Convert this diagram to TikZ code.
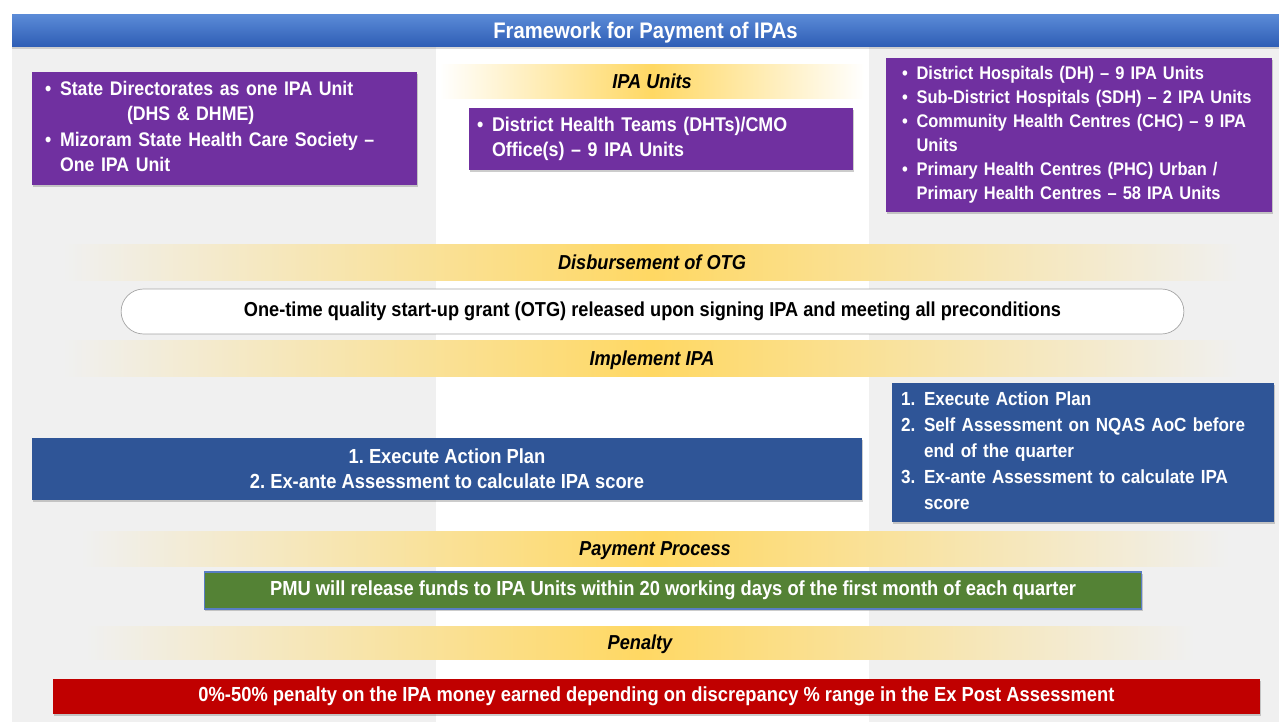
\documentclass[tikz,border=0pt]{standalone}
\usepackage{fontspec}
\setmainfont{Liberation Sans}[FakeStretch=0.9]
\usetikzlibrary{shadows}

\definecolor{ipablue}{HTML}{2F5597}
\definecolor{ipapurple}{HTML}{7030A0}
\definecolor{ipagreen}{HTML}{548235}
\definecolor{ipared}{HTML}{C00000}
\definecolor{ipagold}{HTML}{FFD863}
\definecolor{ipagrey}{HTML}{F0F0F0}
\definecolor{titletop}{HTML}{5A8AD6}
\definecolor{titlebot}{HTML}{2E5DB5}

\begin{document}
\begin{tikzpicture}[%
        x=0.02cm, y=-0.02cm,
        mybox/.style={inner sep=0pt, text=white,
            font=\bfseries\fontsize{11.6}{14.2}\selectfont,
            drop shadow={shadow xshift=0.6pt, shadow yshift=-1.2pt, opacity=0.4}},
        myband/.style={left color=#1, right color=#1, middle color=ipagold,
            inner sep=0pt, text height=8.5pt, text depth=1.5pt,
            font=\bfseries\itshape\fontsize{11.5}{13}\selectfont},
        myband/.default=ipagrey
    ]
    \useasboundingbox (0,0) rectangle (1279,722);

    % grey side columns, white middle column
    \fill[ipagrey] (12,40) rectangle (436,722);
    \fill[ipagrey] (869,40) rectangle (1279,722);

    \node[inner sep=0pt, minimum width=25.34cm, minimum height=0.64cm,
        top color=titletop, bottom color=titlebot, text=white,
        text height=9.5pt, text depth=1.5pt,
        font=\bfseries\fontsize{12.8}{15}\selectfont,
        drop shadow={shadow xshift=0pt, shadow yshift=-1.2pt, opacity=0.3}]
        (title) at (645.5,31) {Framework for Payment of IPAs};

    % IPA units
    \node[myband=white, minimum width=8.5cm, minimum height=0.68cm]
        (unitshead) at (652,82) {IPA Units};

    \node[mybox, fill=ipapurple, minimum width=7.7cm, minimum height=2.26cm,
        text width=7.18cm, align=left, font=\bfseries\fontsize{11.2}{14.4}\selectfont]
        (stateunit) at (224.5,128.5) {%
        \begin{tabular}{@{}l@{\hspace{5pt}}l@{}}
            \textbullet & State Directorates as one IPA Unit\\
                        & \hspace*{1.34cm}(DHS \& DHME)\\
            \textbullet & Mizoram State Health Care Society --\\
                        & One IPA Unit
        \end{tabular}};

    \node[mybox, fill=ipapurple, minimum width=7.68cm, minimum height=1.24cm,
        text width=7.36cm, align=left, font=\bfseries\fontsize{11.3}{14}\selectfont]
        (districtunit) at (661,139) {%
        \begin{tabular}{@{}l@{\hspace{5pt}}l@{}}
            \textbullet & District Health Teams (DHTs)/CMO\\
                        & Office(s) -- 9 IPA Units
        \end{tabular}};

    \node[mybox, fill=ipapurple, minimum width=7.72cm, minimum height=3.08cm,
        text width=7.08cm, align=left, font=\bfseries\fontsize{10.4}{13.7}\selectfont]
        (facilityunit) at (1079,135) {%
        \begin{tabular}{@{}l@{\hspace{5pt}}l@{}}
            \textbullet & District Hospitals (DH) -- 9 IPA Units\\
            \textbullet & Sub-District Hospitals (SDH) -- 2 IPA Units\\
            \textbullet & Community Health Centres (CHC) -- 9 IPA\\
                        & Units\\
            \textbullet & Primary Health Centres (PHC) Urban /\\
                        & Primary Health Centres -- 58 IPA Units
        \end{tabular}};

    % OTG
    \node[myband, minimum width=23.6cm, minimum height=0.72cm]
        (otghead) at (652,263) {Disbursement of OTG};
    \node[draw=gray!70, fill=white, rounded corners=0.45cm,
        minimum width=21.26cm, minimum height=0.9cm,
        font=\bfseries\fontsize{11.5}{13}\selectfont]
        (otg) at (652.5,311.5) {One-time quality start-up grant (OTG) released upon signing IPA and meeting all preconditions};

    % implementation
    \node[myband, minimum width=23.6cm, minimum height=0.72cm]
        (implhead) at (652,359) {Implement IPA};

    \node[mybox, fill=ipablue, minimum width=16.6cm, minimum height=1.24cm,
        align=center] (planleft) at (447,469)
        {1.\ Execute Action Plan\\2.\ Ex-ante Assessment to calculate IPA score};

    \node[mybox, fill=ipablue, minimum width=7.64cm, minimum height=2.78cm,
        text width=7.28cm, align=left, font=\bfseries\fontsize{10.8}{14.8}\selectfont]
        (planright) at (1083,452.5) {%
        \begin{tabular}{@{}l@{\hspace{5pt}}l@{}}
            1. & Execute Action Plan\\
            2. & Self Assessment on NQAS AoC before\\
               & end of the quarter\\
            3. & Ex-ante Assessment to calculate IPA\\
               & score
        \end{tabular}};

    % payment
    \node[myband, minimum width=23cm, minimum height=0.72cm]
        (payhead) at (655,549) {Payment Process};
    \node[mybox, fill=ipagreen, draw=titlebot!80, line width=0.6pt,
        minimum width=18.76cm, minimum height=0.74cm]
        (pmu) at (673,590.5) {PMU will release funds to IPA Units within 20 working days of the first month of each quarter};

    % penalty
    \node[myband, minimum width=22.2cm, minimum height=0.68cm]
        (penhead) at (640,643) {Penalty};
    \node[mybox, fill=ipared, minimum width=24.14cm, minimum height=0.7cm]
        (penalty) at (656.5,696.5) {0\%-50\% penalty on the IPA money earned depending on discrepancy \% range in the Ex Post Assessment};
\end{tikzpicture}
\end{document}
